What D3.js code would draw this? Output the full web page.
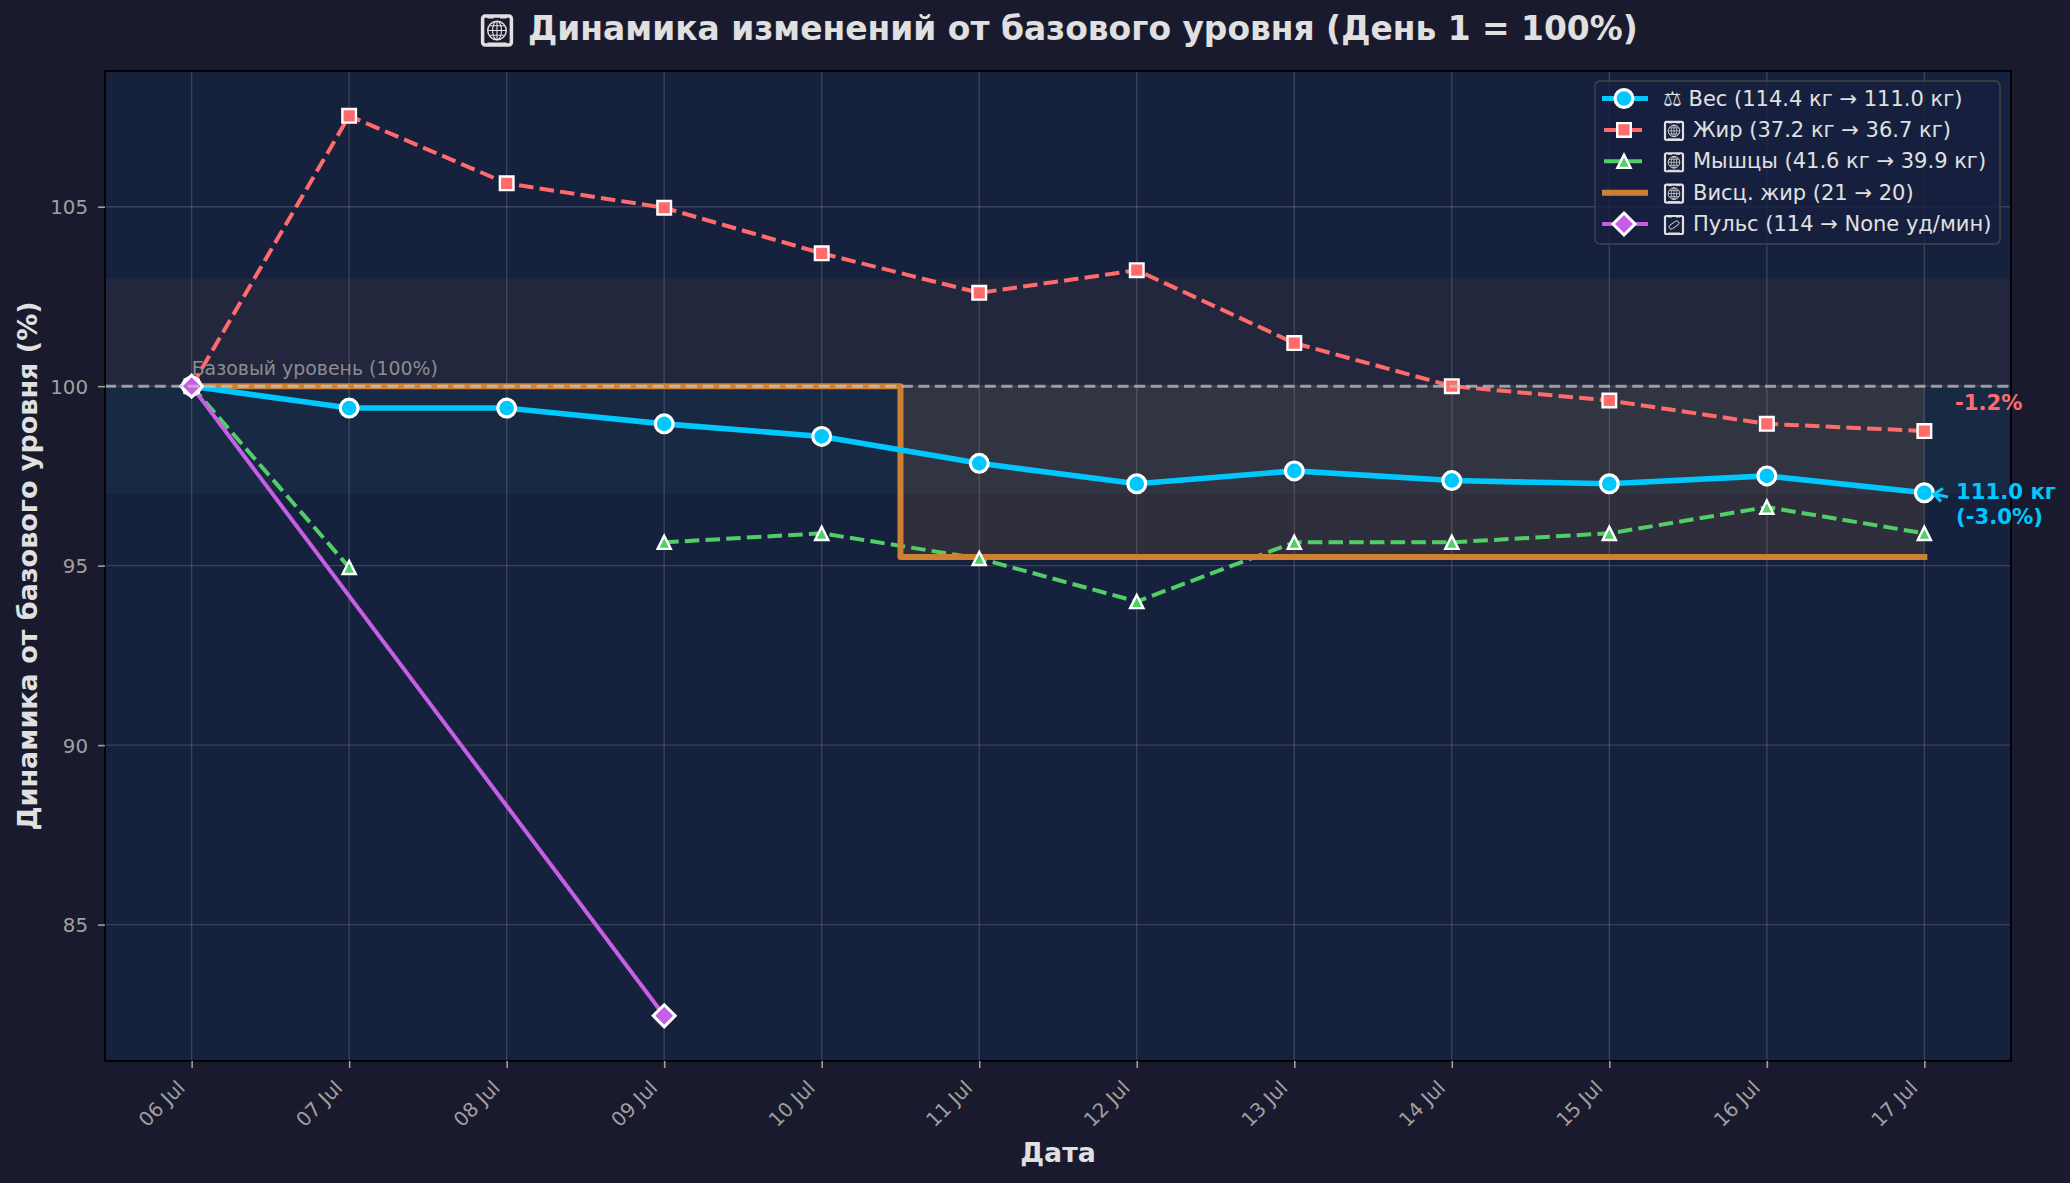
<!DOCTYPE html>
<html>
<head>
<meta charset="utf-8">
<script src="https://cdn.jsdelivr.net/npm/d3@7"></script>
<style>
  html, body { margin: 0; padding: 0; background: #1a1a2e; }
  svg { display: block; font-family: "DejaVu Sans", sans-serif; }
</style>
</head>
<body>
<svg id="chart"></svg>
<script>
const width = 2070;
const height = 1183;

const days = ["2024-07-06", "2024-07-07", "2024-07-08", "2024-07-09", "2024-07-10", "2024-07-11",
  "2024-07-12", "2024-07-13", "2024-07-14", "2024-07-15", "2024-07-16", "2024-07-17"];
const tickLabels = ["06 Jul", "07 Jul", "08 Jul", "09 Jul", "10 Jul", "11 Jul",
  "12 Jul", "13 Jul", "14 Jul", "15 Jul", "16 Jul", "17 Jul"];
const yTicks = [85, 90, 95, 100, 105];

// percent of day 1, null where nothing was logged
const weight = [100, 99.39, 99.39, 98.95, 98.6, 97.85, 97.28, 97.64, 97.37, 97.28, 97.5, 97.03];
const fat = [100, 107.53, 105.65, 104.97, 103.7, 102.6, 103.23, 101.2, 100, 99.6, 98.95, 98.75];
const muscle = [100, 94.95, null, 95.65, 95.9, 95.2, 94.0, 95.65, 95.65, 95.9, 96.63, 95.9];
const visceral = [100, 100, 100, 100, 100, 95.24, 95.24, 95.24, 95.24, 95.24, 95.24, 95.24];
const pulse = [100, null, null, 82.46, null, null, null, null, null, null, null, null];

const legendLabels = ["Вес (114.4 кг → 111.0 кг)", "Жир (37.2 кг → 36.7 кг)", "Мышцы (41.6 кг → 39.9 кг)",
  "Висц. жир (21 → 20)", "Пульс (114 → None уд/мин)"];

const colors = { bg: "#1a1a2e", plot: "#16213e", weight: "#00c8ff", fat: "#ff6b6b", muscle: "#51cf66", visceral: "#cd7f32", pulse: "#c65ee6" };

const margin = { top: 71, right: 59, bottom: 122, left: 105 };

const parseDay = d3.timeParse("%Y-%m-%d");
const dates = days.map(parseDay);
const dayMs = 86400000;

const x = d3.scaleTime()
  .domain([new Date(+dates[0] - 0.55 * dayMs), new Date(+dates[11] + 0.55 * dayMs)])
  .range([margin.left, width - margin.right]);

const y = d3.scaleLinear()
  .domain([81.2, 108.78])
  .range([height - margin.bottom, margin.top]);

const svg = d3.select("#chart").attr("width", width).attr("height", height).attr("viewBox", `0 0 ${width} ${height}`);

svg.append("rect").attr("width", width).attr("height", height).attr("fill", colors.bg);

const plotW = width - margin.left - margin.right;
svg.append("rect").attr("x", margin.left).attr("y", margin.top).attr("width", plotW)
  .attr("height", height - margin.top - margin.bottom).attr("fill", colors.plot);

// bands around the baseline
svg.append("rect").attr("x", margin.left).attr("width", plotW)
  .attr("y", y(103)).attr("height", y(100) - y(103))
  .attr("fill", colors.visceral).attr("opacity", 0.07);
svg.append("rect").attr("x", margin.left).attr("width", plotW)
  .attr("y", y(100)).attr("height", y(97) - y(100))
  .attr("fill", "#4ecdc4").attr("opacity", 0.05);

// grid
svg.append("g").selectAll("line").data(dates).join("line")
  .attr("x1", d => x(d)).attr("x2", d => x(d))
  .attr("y1", margin.top).attr("y2", height - margin.bottom)
  .attr("stroke", "#fff").attr("stroke-opacity", 0.15).attr("stroke-width", 1.4);
svg.append("g").selectAll("line").data(yTicks).join("line")
  .attr("x1", margin.left).attr("x2", width - margin.right)
  .attr("y1", d => y(d)).attr("y2", d => y(d))
  .attr("stroke", "#fff").attr("stroke-opacity", 0.15).attr("stroke-width", 1.4);

// visceral fill down from 100 after the step
const stepX = new Date((+dates[4] + +dates[5]) / 2);
svg.append("path")
  .datum([stepX, dates[11]])
  .attr("d", d3.area().x(d => x(d)).y0(y(100)).y1(y(95.24)))
  .attr("fill", colors.visceral).attr("opacity", 0.14);

const lineGen = d3.line()
  .defined(d => d.v !== null)
  .x(d => x(d.date))
  .y(d => y(d.v));

function rows(values) {
  return values.map((v, i) => ({ date: dates[i], v: v }));
}

const triangleSym = { draw(ctx, size) { const r = Math.sqrt(size); ctx.moveTo(0, -r); ctx.lineTo(r, r); ctx.lineTo(-r, r); ctx.closePath(); } };
const diamondSym = { draw(ctx, size) { const r = Math.sqrt(size); ctx.moveTo(0, -r); ctx.lineTo(r, 0); ctx.lineTo(0, r); ctx.lineTo(-r, 0); ctx.closePath(); } };

const markers = {
  weight: { sym: d3.symbolCircle, size: Math.PI * 8.9 * 8.9, sw: 3.2 },
  fat: { sym: d3.symbolSquare, size: 13.6 * 13.6, sw: 2.4 },
  muscle: { sym: triangleSym, size: 6.6 * 6.6, sw: 2.4 },
  pulse: { sym: diamondSym, size: 11 * 11, sw: 3 }
};

function drawMarker(g, kind, color, px, py) {
  const m = markers[kind];
  g.append("path")
    .attr("d", d3.symbol().type(m.sym).size(m.size)())
    .attr("transform", `translate(${px},${py})`)
    .attr("fill", color).attr("stroke", "#fff").attr("stroke-width", m.sw);
}

// baseline
svg.append("text").attr("x", x(dates[0])).attr("y", 375)
  .attr("font-size", 18.9).attr("fill", "#a0a0a0").attr("fill-opacity", 0.85)
  .text("Базовый уровень (100%)");

const seriesG = svg.append("g");

// muscle has a hole on 08 Jul, fat none
seriesG.append("path").datum(rows(fat)).attr("d", lineGen)
  .attr("fill", "none").attr("stroke", colors.fat).attr("stroke-width", 4).attr("stroke-dasharray", "14.5,6.2");

seriesG.append("path").datum(rows(muscle)).attr("d", lineGen)
  .attr("fill", "none").attr("stroke", colors.muscle).attr("stroke-width", 4).attr("stroke-dasharray", "14.5,6.2");

seriesG.append("path").datum(rows(visceral))
  .attr("d", d3.line().x(d => x(d.date)).y(d => y(d.v)).curve(d3.curveStep))
  .attr("fill", "none").attr("stroke", colors.visceral).attr("stroke-width", 6)
  .attr("stroke-linecap", "square").attr("stroke-linejoin", "round");

seriesG.append("path").datum(rows(pulse).filter(d => d.v !== null)).attr("d", lineGen)
  .attr("fill", "none").attr("stroke", colors.pulse).attr("stroke-width", 4);

seriesG.append("path").datum(rows(weight)).attr("d", lineGen)
  .attr("fill", "none").attr("stroke", colors.weight).attr("stroke-width", 5.6);

svg.append("line")
  .attr("x1", margin.left).attr("x2", width - margin.right)
  .attr("y1", y(100)).attr("y2", y(100))
  .attr("stroke", "#c8c8c8").attr("stroke-opacity", 0.7).attr("stroke-width", 3)
  .attr("stroke-dasharray", "11,5.6");

rows(fat).forEach(d => drawMarker(seriesG, "fat", colors.fat, x(d.date), y(d.v)));
rows(muscle).filter(d => d.v !== null).forEach(d => drawMarker(seriesG, "muscle", colors.muscle, x(d.date), y(d.v)));
rows(weight).forEach(d => drawMarker(seriesG, "weight", colors.weight, x(d.date), y(d.v)));
rows(pulse).filter(d => d.v !== null).forEach(d => drawMarker(seriesG, "pulse", colors.pulse, x(d.date), y(d.v)));

// spines
svg.append("rect").attr("x", margin.left).attr("y", margin.top).attr("width", plotW)
  .attr("height", height - margin.top - margin.bottom)
  .attr("fill", "none").attr("stroke", "#000").attr("stroke-width", 1.8);

// axes
const xAxis = svg.append("g").attr("transform", `translate(0,${height - margin.bottom})`)
  .call(d3.axisBottom(x).tickValues(dates).tickSize(7).tickFormat((d, i) => tickLabels[i]));
xAxis.select(".domain").remove();
xAxis.selectAll("line").attr("stroke", "#a0a0a0").attr("stroke-width", 1.6);
xAxis.selectAll("text")
  .attr("font-size", 19.8).attr("font-family", "DejaVu Sans").attr("fill", "#a0a0a0")
  .attr("text-anchor", "end").attr("dy", null).attr("x", 0).attr("y", 0)
  .attr("transform", "translate(-6,28) rotate(-45)");

const yAxis = svg.append("g").attr("transform", `translate(${margin.left},0)`)
  .call(d3.axisLeft(y).tickValues(yTicks).tickSize(7));
yAxis.select(".domain").remove();
yAxis.selectAll("line").attr("stroke", "#a0a0a0").attr("stroke-width", 1.6);
yAxis.selectAll("text").attr("font-size", 19.8).attr("font-family", "DejaVu Sans").attr("fill", "#a0a0a0")
  .attr("x", -17).attr("dy", "0.36em");

// placeholder-box icon, the emoji font was missing in the original so it shows a framed glyph
function drawIcon(g, cx, cy, s, kind, color) {
  const icon = g.append("g").attr("transform", `translate(${cx},${cy}) scale(${s / 20})`);
  icon.append("rect").attr("x", -9).attr("y", -9).attr("width", 18).attr("height", 18).attr("rx", 1.6)
    .attr("fill", "none").attr("stroke", color).attr("stroke-width", 2.2);
  icon.append("path").attr("d", "M-6,-8H-2M2,-8H6M-6,8H6")
    .attr("stroke", color).attr("stroke-width", 1).attr("fill", "none");
  if (kind === "globe") {
    icon.append("circle").attr("r", 5.8).attr("fill", "none").attr("stroke", color).attr("stroke-width", 0.9);
    icon.append("ellipse").attr("rx", 2.8).attr("ry", 5.8).attr("fill", "none").attr("stroke", color).attr("stroke-width", 0.7);
    icon.append("path").attr("d", "M-5.8,0H5.8M-5,-3H5M-5,3H5M0,-5.8V5.8").attr("stroke", color).attr("stroke-width", 0.7).attr("fill", "none");
  } else {
    icon.append("rect").attr("x", -5.5).attr("y", -2.2).attr("width", 11).attr("height", 4.4).attr("rx", 2.2)
      .attr("transform", "rotate(-35)").attr("fill", "none").attr("stroke", color).attr("stroke-width", 0.9);
  }
}

// titles
svg.append("text").attr("x", 528).attr("y", 40)
  .attr("font-size", 32.9).attr("font-weight", "bold").attr("fill", "#e0e0e0")
  .text("Динамика изменений от базового уровня (День 1 = 100%)");
drawIcon(svg, 497, 30.5, 32, "globe", "#e0e0e0");

svg.append("text").attr("x", 1058).attr("y", 1162).attr("text-anchor", "middle")
  .attr("font-size", 26.8).attr("font-weight", "bold").attr("fill", "#e0e0e0").text("Дата");

svg.append("text").attr("transform", `translate(37,${566}) rotate(-90)`).attr("text-anchor", "middle")
  .attr("font-size", 27).attr("font-weight", "bold").attr("fill", "#e0e0e0").text("Динамика от базового уровня (%)");

// end labels
svg.append("text").attr("x", 1955).attr("y", 410).attr("font-size", 21.2).attr("font-weight", "bold")
  .attr("fill", colors.fat).text("-1.2%");
svg.append("text").attr("x", 1956).attr("y", 499).attr("font-size", 21.2).attr("font-weight", "bold")
  .attr("fill", colors.weight).text("111.0 кг");
svg.append("text").attr("x", 1956).attr("y", 524).attr("font-size", 21.2).attr("font-weight", "bold")
  .attr("fill", colors.weight).text("(-3.0%)");
svg.append("path").attr("d", "M1948,497L1934,494M1943,488.5L1934,494L1941,501.5")
  .attr("fill", "none").attr("stroke", colors.weight).attr("stroke-width", 3.2);

// legend
const legend = svg.append("g");
legend.append("rect").attr("x", 1595).attr("y", 81).attr("width", 405).attr("height", 163).attr("rx", 5)
  .attr("fill", colors.plot).attr("fill-opacity", 0.8).attr("stroke", "#444").attr("stroke-width", 1.4);

const legendKinds = ["weight", "fat", "muscle", "visceral", "pulse"];
const legendRowY = d3.scaleLinear().domain([0, 4]).range([98.5, 224]);
legendLabels.forEach((label, i) => {
  const kind = legendKinds[i];
  const ry = legendRowY(i);
  const lw = kind === "weight" ? 5 : kind === "visceral" ? 6 : 4;
  const isDashed = kind === "fat" || kind === "muscle";
  legend.append("line").attr("x1", isDashed ? 1604 : 1602).attr("x2", isDashed ? 1642 : 1648).attr("y1", ry).attr("y2", ry)
    .attr("stroke", colors[kind]).attr("stroke-width", lw);
  if (kind !== "visceral") drawMarker(legend, kind, colors[kind], 1624, ry);
  if (i === 0) {
    legend.append("text").attr("x", 1663).attr("y", ry + 7).attr("font-size", 21).attr("fill", "#e0e0e0")
      .text("⚖ " + label);
  } else {
    drawIcon(legend, 1674, ry + 1, 20, i === 4 ? "pill" : "globe", "#e0e0e0");
    legend.append("text").attr("x", 1693).attr("y", ry + 7).attr("font-size", 21).attr("fill", "#e0e0e0").text(label);
  }
});
</script>
</body>
</html>
